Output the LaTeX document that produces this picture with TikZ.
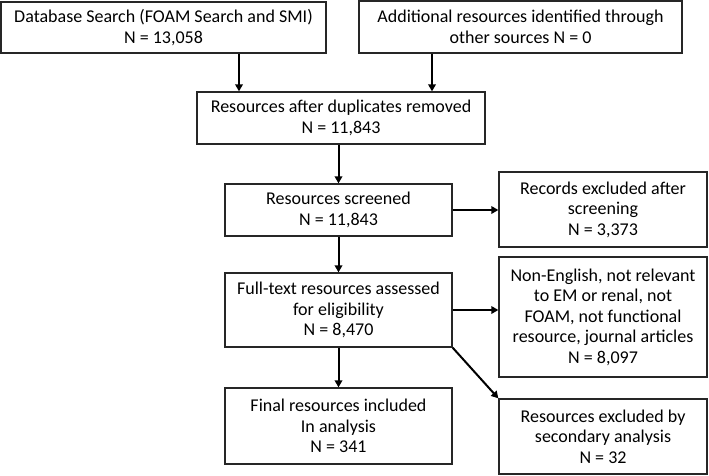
\documentclass[tikz,border=0pt]{standalone}
\usepackage{fontspec}
\setmainfont{Carlito}
\usetikzlibrary{arrows.meta}
\begin{document}
\begin{tikzpicture}[x=1pt,y=-1pt,
  box/.style={draw=black!85,line width=1.3pt,inner sep=0pt,align=center,
    font=\fontsize{18}{20.5}\selectfont},
  arr/.style={line width=2pt,-{Triangle[length=7pt,width=7.5pt]}}]
\useasboundingbox (0,0) rectangle (709,475);
\node[box,minimum width=325pt,minimum height=51pt] (b1) at (163.5,27.5) {Database Search (FOAM Search and SMI)\\N = 13,058};
\node[box,minimum width=323pt,minimum height=52pt] (b2) at (520.5,27) {Additional resources identified through\\other sources N = 0};
\node[box,minimum width=288pt,minimum height=52pt] (b3) at (341,118) {Resources after duplicates removed\\N = 11,843};
\node[box,minimum width=227pt,minimum height=52pt] (b4) at (338.5,210) {Resources screened\\N = 11,843};
\node[box,minimum width=208pt,minimum height=75pt] (b5) at (603,209.5) {Records excluded after\\screening\\N = 3,373};
\node[box,minimum width=227pt,minimum height=74pt] (b6) at (338.5,310) {Full-text resources assessed\\for eligibility\\N = 8,470};
\node[box,minimum width=208pt,minimum height=120pt] (b7) at (603,317) {Non-English, not relevant\\to EM or renal, not\\FOAM, not functional\\resource, journal articles\\N = 8,097};
\node[box,minimum width=208pt,minimum height=75pt] (b8) at (603,436.5) {Resources excluded by\\secondary analysis\\N = 32};
\node[box,minimum width=227pt,minimum height=76pt] (b9) at (338.5,426) {Final resources included\\In analysis\\N = 341};
\draw[arr] (239,0 |- b1.south) -- (239,0 |- b3.north);
\draw[arr] (432,0 |- b2.south) -- (432,0 |- b3.north);
\draw[arr] (338.5,0 |- b3.south) -- (b4.north);
\draw[arr] (b4.east) -- (b4.east -| b5.west);
\draw[arr] (b4.south) -- (b6.north);
\draw[arr] (b6.east) -- (b6.east -| b7.west);
\draw[arr] (b6.south) -- (b9.north);
\draw[arr] (b6.south east) -- (b8.north west);
\end{tikzpicture}
\end{document}
